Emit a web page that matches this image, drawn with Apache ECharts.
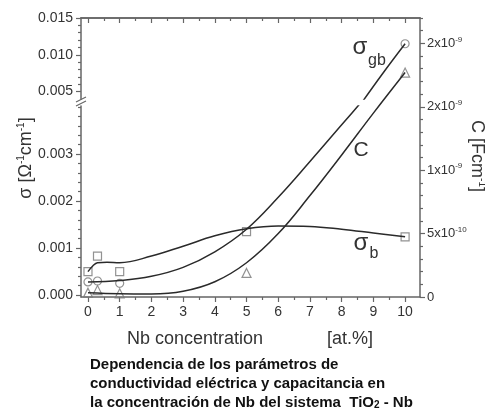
<!DOCTYPE html>
<html>
<head>
<meta charset="utf-8">
<script src="https://cdn.jsdelivr.net/npm/echarts@6/dist/echarts.min.js"></script>
<style>
html, body { margin: 0; padding: 0; background: #fff; }
#chart { width: 485px; height: 412px; }
</style>
</head>
<body>
<div id="chart"></div>
<script>
// ticks
var xTicks = [0, 1, 2, 3, 4, 5, 6, 7, 8, 9, 10];
var xMinor = [0.5, 1.5, 2.5, 3.5, 4.5, 5.5, 6.5, 7.5, 8.5, 9.5];
var sigmaTicksHi = [0.005, 0.010, 0.015];
var sigmaMinorHi = [0.006, 0.007, 0.008, 0.009, 0.011, 0.012, 0.013, 0.014];
var sigmaTicksLo = [0, 0.001, 0.002, 0.003];
var sigmaMinorLo = [0.0002, 0.0004, 0.0006, 0.0008, 0.0012, 0.0014, 0.0016, 0.0018,
  0.0022, 0.0024, 0.0026, 0.0028, 0.0032, 0.0034, 0.0036, 0.0038, 0.004];
var cTicks = [0, 5e-10, 1e-9, 1.5e-9, 2e-9];
var cTickLabels = ['0', '5x10{sup|-10}', '1x10{sup|-9}', '2x10{sup|-9}', '2x10{sup|-9}'];
var cMinor = [1e-10, 2e-10, 3e-10, 4e-10, 6e-10, 7e-10, 8e-10, 9e-10, 1.1e-9, 1.2e-9,
  1.3e-9, 1.4e-9, 1.6e-9, 1.7e-9, 1.8e-9, 1.9e-9, 2.1e-9, 2.2e-9];

// measured points [at.% Nb, value]
var sigmaBPts = [[0, 0.0005], [0.3, 0.00083], [1, 0.0005], [5, 0.00135], [10, 0.00124]];
var sigmaGbPts = [[0, 0.00028], [0.3, 0.0003], [1, 0.00025], [10, 0.0115]];
var cPts = [[0, 3.4e-11], [0.3, 5.5e-11], [1, 2.9e-11], [5, 1.9e-10], [10, 1.77e-9]];

// fitted curves
var sigmaBCurve = [[0, 0.0005], [0.15, 0.00062], [0.3, 0.00069], [0.6, 0.0007], [1, 0.00069],
  [2, 0.00083], [3, 0.00104], [4, 0.00126], [5, 0.00141], [6, 0.00147], [7, 0.00146],
  [8, 0.0014], [9, 0.00132], [10, 0.00124]];
var sigmaGbCurveLo = [[0, 0.00028], [1, 0.00031], [2, 0.0004], [3, 0.00059],
  [4, 0.00092], [5, 0.0014], [6, 0.00208], [7, 0.00284], [8, 0.00362], [9, 0.0044]];
var sigmaGbCurveHi = [[8.6, 0.0033], [9.3, 0.0075], [10, 0.0115]];
var cCurve = [[0, 3.4e-11], [1, 2.6e-11], [2, 2.4e-11], [3, 4.5e-11],
  [4, 1.2e-10], [5, 2.7e-10], [6, 5.0e-10], [7, 8.0e-10], [8, 1.12e-9], [9, 1.45e-9], [10, 1.77e-9]];

var FONT = 'Liberation Sans, Arial, sans-serif';
var AXIS = '#666';
var TXT = '#333';
var LINE = '#2a2a2a';
var MARK = '#777';

var chartDom = document.getElementById('chart');
var myChart = echarts.init(chartDom);

var xMin = -0.22, xMax = 10.47;

function xAx(grid, pos, show, ticks, len, inside, labels) {
  return {
    type: 'value', gridIndex: grid, position: pos, min: xMin, max: xMax, show: show,
    axisLine: { show: !!labels || pos === 'top', onZero: false, lineStyle: { color: AXIS, width: 1.5 } },
    axisTick: { show: !!ticks, customValues: ticks || [], length: len, inside: inside, lineStyle: { color: AXIS, width: 1.2 } },
    axisLabel: labels ? { customValues: xTicks, fontSize: 14, color: TXT, fontFamily: FONT, margin: 8 } : { show: false },
    splitLine: { show: false }
  };
}

function yAx(grid, pos, min, max, showLine, ticks, len, labels) {
  return {
    type: 'value', gridIndex: grid, position: pos, min: min, max: max,
    axisLine: { show: showLine, onZero: false, lineStyle: { color: AXIS, width: 1.5 } },
    axisTick: { show: true, customValues: ticks, length: len, lineStyle: { color: AXIS, width: 1.2 } },
    axisLabel: labels || { show: false },
    splitLine: { show: false }
  };
}

function curve(xi, yi, data) {
  return { type: 'line', xAxisIndex: xi, yAxisIndex: yi, data: data, smooth: 0.4,
    showSymbol: false, lineStyle: { color: LINE, width: 1.5 } };
}

function marks(xi, yi, data, symbol, size) {
  return { type: 'scatter', xAxisIndex: xi, yAxisIndex: yi, data: data, symbol: symbol, symbolSize: size, clip: true,
    itemStyle: { color: 'rgba(255,255,255,0)', borderColor: MARK, borderWidth: 1.2 } };
}

var option = {
  animation: false,
  backgroundColor: '#fff',
  grid: [
    { left: 81, top: 18, width: 339, height: 279 },
    { left: 81, top: 18, width: 339, height: 81 },
    { left: 81, top: 106, width: 339, height: 191 }
  ],
  xAxis: [
    xAx(0, 'bottom', true, xTicks, 5, false, true),
    xAx(0, 'bottom', true, xMinor, 3, false, false),
    xAx(0, 'top', true, xTicks, 5, true, false),
    xAx(0, 'top', true, xMinor, 3, true, false),
    xAx(1, 'bottom', false),
    xAx(2, 'bottom', false)
  ],
  yAxis: [
    yAx(0, 'right', 0, 2.2e-9, true, cTicks, 5, {
      customValues: cTicks, fontSize: 13, color: TXT, fontFamily: FONT, margin: 7,
      formatter: function (v) { return cTickLabels[cTicks.indexOf(v)] || ''; },
      rich: { sup: { fontSize: 8, color: TXT, fontFamily: FONT, padding: [0, 0, 8, 0] } }
    }),
    yAx(0, 'right', 0, 2.2e-9, false, cMinor, 3),
    yAx(1, 'left', 0.004, 0.015, true, sigmaTicksHi, 5, {
      customValues: sigmaTicksHi, fontSize: 14, color: TXT, fontFamily: FONT, margin: 8,
      formatter: function (v) { return v.toFixed(3); }
    }),
    yAx(1, 'left', 0.004, 0.015, false, sigmaMinorHi, 3),
    yAx(2, 'left', -0.00004, 0.00402, true, sigmaTicksLo, 5, {
      customValues: sigmaTicksLo, fontSize: 14, color: TXT, fontFamily: FONT, margin: 8,
      formatter: function (v) { return v.toFixed(3); }
    }),
    yAx(2, 'left', -0.00004, 0.00402, false, sigmaMinorLo, 3)
  ],
  series: [
    curve(5, 4, sigmaBCurve),
    curve(5, 4, sigmaGbCurveLo),
    curve(4, 2, sigmaGbCurveHi),
    curve(0, 0, cCurve),
    marks(5, 4, sigmaBPts, 'rect', 8),
    marks(5, 4, sigmaGbPts, 'circle', 8),
    marks(4, 2, sigmaGbPts, 'circle', 8),
    marks(0, 0, cPts, 'triangle', 9)
  ],
  graphic: [
    // axis break
    { type: 'line', shape: { x1: 76, y1: 102, x2: 86, y2: 97 }, style: { stroke: AXIS, lineWidth: 1.2 } },
    { type: 'line', shape: { x1: 76, y1: 106, x2: 86, y2: 101 }, style: { stroke: AXIS, lineWidth: 1.2 } },
    // axis names
    { type: 'text', x: 195, y: 339, style: { text: 'Nb concentration', font: '18px ' + FONT, fill: TXT, align: 'center', verticalAlign: 'middle' } },
    { type: 'text', x: 350, y: 339, style: { text: '[at.%]', font: '18px ' + FONT, fill: TXT, align: 'center', verticalAlign: 'middle' } },
    { type: 'text', x: 26, y: 158, rotation: Math.PI / 2, style: {
      text: 'σ [Ω{sup|-1}cm{sup|-1}]', font: '18px ' + FONT, fill: TXT, align: 'center', verticalAlign: 'middle',
      rich: { sup: { fontSize: 10, fontFamily: FONT, fill: TXT, padding: [0, 0, 9, 0] } } } },
    { type: 'text', x: 477, y: 156, rotation: -Math.PI / 2, style: {
      text: 'C [Fcm{sup|-1}]', font: '18px ' + FONT, fill: TXT, align: 'center', verticalAlign: 'middle',
      rich: { sup: { fontSize: 10, fontFamily: FONT, fill: TXT, padding: [0, 0, 9, 0] } } } },
    // curve labels
    { type: 'text', x: 360, y: 47, style: { text: 'σ', font: '24px ' + FONT, fill: TXT, align: 'center', verticalAlign: 'middle' } },
    { type: 'text', x: 377, y: 61, style: { text: 'gb', font: '16px ' + FONT, fill: TXT, align: 'center', verticalAlign: 'middle' } },
    { type: 'text', x: 361, y: 150, style: { text: 'C', font: '21px ' + FONT, fill: TXT, align: 'center', verticalAlign: 'middle' } },
    { type: 'text', x: 361, y: 243, style: { text: 'σ', font: '24px ' + FONT, fill: TXT, align: 'center', verticalAlign: 'middle' } },
    { type: 'text', x: 374, y: 254, style: { text: 'b', font: '16px ' + FONT, fill: TXT, align: 'center', verticalAlign: 'middle' } },
    // caption
    { type: 'text', x: 90, y: 355, style: {
      text: 'Dependencia de los parámetros de\nconductividad eléctrica y capacitancia en\nla concentración de Nb del sistema  TiO{sub|2} - Nb',
      font: 'bold 15px ' + FONT, fill: '#111', lineHeight: 19, align: 'left', verticalAlign: 'top',
      rich: { sub: { fontSize: 10, fontWeight: 'bold', fontFamily: FONT, fill: '#111', padding: [6, 0, 0, 0] } } } }
  ]
};

option && myChart.setOption(option);
</script>
</body>
</html>
